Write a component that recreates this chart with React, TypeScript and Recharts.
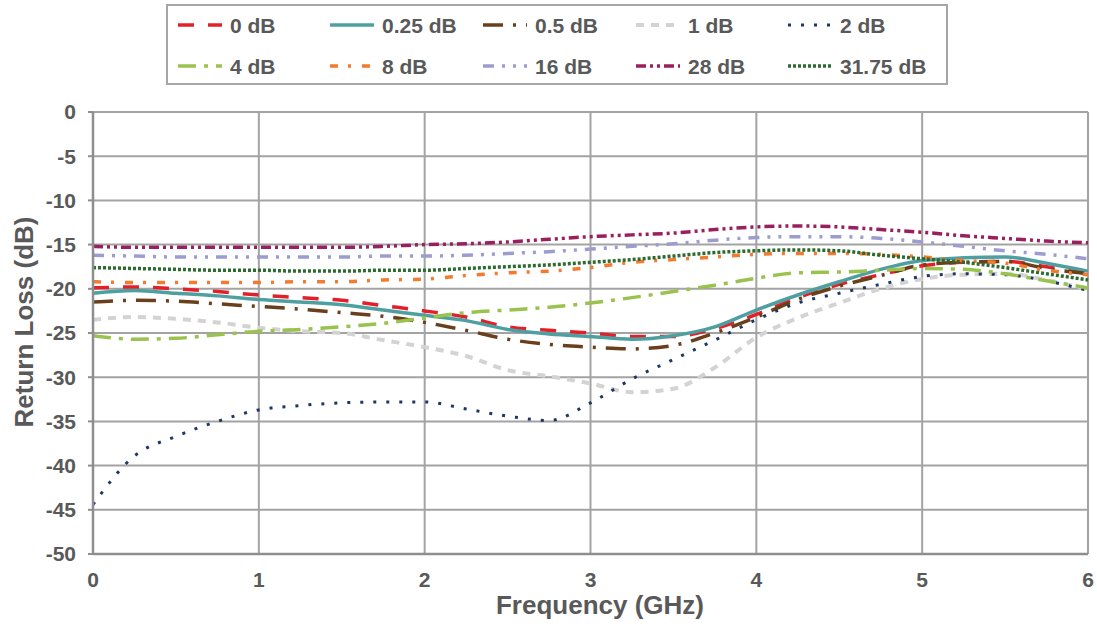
import React from 'react';
import { LineChart, Line, XAxis, YAxis, CartesianGrid } from 'recharts';

const freqGHz = [0, 0.25, 0.5, 0.75, 1, 1.25, 1.5, 1.75, 2, 2.25, 2.5, 2.75, 3, 3.25, 3.5, 3.75, 4, 4.25, 4.5, 4.75, 5, 5.25, 5.5, 5.75, 6];

const rl0dB = [-19.9, -19.8, -20.0, -20.3, -20.7, -21.0, -21.3, -21.9, -22.5, -23.2, -24.3, -24.7, -25.0, -25.4, -25.4, -24.5, -22.9, -21.0, -19.5, -18.4, -17.4, -17.0, -16.9, -17.5, -18.3];
const rl025dB = [-20.5, -20.2, -20.5, -20.8, -21.2, -21.5, -21.8, -22.4, -23.0, -23.6, -24.6, -25.1, -25.4, -25.7, -25.3, -24.3, -22.4, -20.7, -19.2, -17.8, -16.8, -16.5, -16.4, -17.1, -18.0];
const rl05dB = [-21.5, -21.3, -21.4, -21.7, -22.0, -22.3, -22.7, -23.1, -23.8, -24.7, -25.7, -26.3, -26.6, -26.8, -26.4, -25.0, -23.2, -21.2, -19.7, -18.5, -17.3, -17.0, -16.9, -17.7, -18.3];
const rl1dB = [-23.5, -23.2, -23.4, -23.8, -24.4, -24.8, -25.0, -25.8, -26.6, -27.6, -29.2, -29.9, -30.7, -31.7, -31.3, -28.9, -25.5, -23.3, -21.6, -20.0, -18.9, -18.4, -18.3, -19.0, -20.1];
const rl2dB = [-44.4, -38.9, -36.7, -35.0, -33.7, -33.2, -32.9, -32.8, -32.8, -33.6, -34.4, -34.9, -32.9, -30.2, -28.0, -25.8, -23.5, -21.6, -20.5, -19.5, -18.6, -18.3, -18.4, -19.1, -20.2];
const rl4dB = [-25.3, -25.7, -25.6, -25.2, -24.8, -24.6, -24.3, -23.9, -23.3, -22.7, -22.4, -22.1, -21.6, -21.0, -20.3, -19.6, -18.8, -18.2, -18.1, -17.9, -17.7, -17.8, -18.3, -19.1, -19.9];
const rl8dB = [-19.2, -19.3, -19.3, -19.3, -19.3, -19.2, -19.2, -19.0, -18.9, -18.5, -18.2, -18.0, -17.6, -17.0, -16.7, -16.4, -16.1, -16.0, -16.0, -16.1, -16.4, -16.8, -17.1, -17.9, -18.4];
const rl16dB = [-16.2, -16.3, -16.4, -16.4, -16.4, -16.4, -16.4, -16.3, -16.3, -16.2, -16.0, -15.8, -15.5, -15.2, -14.9, -14.5, -14.2, -14.1, -14.1, -14.3, -14.7, -15.2, -15.7, -16.1, -16.6];
const rl28dB = [-15.2, -15.3, -15.3, -15.3, -15.3, -15.3, -15.3, -15.2, -15.0, -14.9, -14.7, -14.4, -14.1, -13.9, -13.7, -13.3, -13.0, -12.9, -13.0, -13.3, -13.6, -14.0, -14.3, -14.6, -14.8];
const rl3175dB = [-17.6, -17.7, -17.8, -17.9, -17.9, -18.0, -18.0, -17.9, -17.9, -17.7, -17.5, -17.3, -17.0, -16.7, -16.3, -15.9, -15.7, -15.6, -15.7, -16.2, -16.6, -17.0, -17.6, -18.3, -19.0];

const xTicks = [0, 1, 2, 3, 4, 5, 6];
const yTicks = [0, -5, -10, -15, -20, -25, -30, -35, -40, -45, -50];

const seriesNames = ['0 dB', '0.25 dB', '0.5 dB', '1 dB', '2 dB', '4 dB', '8 dB', '16 dB', '28 dB', '31.75 dB'];
const seriesValues = [rl0dB, rl025dB, rl05dB, rl1dB, rl2dB, rl4dB, rl8dB, rl16dB, rl28dB, rl3175dB];

const seriesStyles = [
  { color: '#E3202A', dash: '16 14', width: 3.5 },
  { color: '#4E9FA0', dash: undefined, width: 3.5 },
  { color: '#6A3F1C', dash: '20 10 3 10', width: 3.5 },
  { color: '#D3D3D3', dash: '8 7', width: 4 },
  { color: '#1E3664', dash: '3 10', width: 3 },
  { color: '#9AC24E', dash: '18 8 4 8', width: 3.5 },
  { color: '#F37A2E', dash: '8 10 3 11', width: 3.5 },
  { color: '#9C9CD0', dash: '11 8 3 8 3 8', width: 3.5 },
  { color: '#9A1F5E', dash: '10 4 3 4 3 4', width: 3.5 },
  { color: '#2C6B2E', dash: '3 2', width: 3.5 },
];

const data = freqGHz.map((f, i) => {
  const row: Record<string, number> = { f };
  seriesValues.forEach((vals, k) => {
    row['s' + k] = vals[i];
  });
  return row;
});

const FONT = '"Liberation Sans", Arial, sans-serif';
const TEXT = '#595959';
const GRID = '#A3A3A3';

const legendCols = [178, 330, 483, 636, 788];
const legendRows = [25, 66];

function LegendOverlay() {
  return (
    <svg width={1097} height={92} style={{ position: 'absolute', left: 0, top: 0 }}>
      <rect x={167} y={5} width={780} height={79} fill="#fff" stroke="#A6A6A6" strokeWidth={2} />
      {seriesNames.map((name, i) => {
        const col = i % 5;
        const row = Math.floor(i / 5);
        const x0 = legendCols[col];
        const y = legendRows[row];
        const st = seriesStyles[i];
        return (
          <g key={name}>
            <line x1={x0} x2={x0 + 44} y1={y} y2={y} stroke={st.color} strokeWidth={st.width} strokeDasharray={st.dash} />
            <text x={x0 + 52} y={y} dominantBaseline="central" fontFamily={FONT} fontWeight="bold" fontSize={21} fill={TEXT}>
              {name}
            </text>
          </g>
        );
      })}
    </svg>
  );
}

const titleStyle = { fontFamily: FONT, fontWeight: 'bold' as const, fontSize: 26, fill: TEXT };

const XTitle = () => (
  <text x={600} y={614} textAnchor="middle" {...titleStyle}>
    Frequency (GHz)
  </text>
);

const YTitle = () => (
  <text x={33} y={322} textAnchor="middle" transform="rotate(-90 33 322)" {...titleStyle}>
    Return Loss (dB)
  </text>
);

export default function App() {
  return (
    <div style={{ position: 'absolute', left: 0, top: 0, width: 1097, height: 633, background: '#fff' }}>
      <LineChart width={1097} height={633} data={data} margin={{ top: 112, right: 9, bottom: 0, left: 0 }}>
        <CartesianGrid stroke={GRID} strokeWidth={2} />
        <XAxis
          dataKey="f"
          type="number"
          domain={[0, 6]}
          ticks={xTicks}
          height={79}
          axisLine={{ stroke: '#8E8E8E', strokeWidth: 2.5 }}
          tickLine={false}
          tickSize={6}
          tickMargin={12}
          tick={{ fontFamily: FONT, fontWeight: 'bold', fontSize: 21, fill: TEXT }}
          label={{ content: XTitle }}
        />
        <YAxis
          type="number"
          domain={[-50, 0]}
          ticks={yTicks}
          width={93}
          interval={0}
          axisLine={{ stroke: '#8E8E8E', strokeWidth: 2.5 }}
          tickLine={{ stroke: '#8E8E8E', strokeWidth: 2 }}
          tickSize={5}
          tickMargin={12}
          tick={{ fontFamily: FONT, fontWeight: 'bold', fontSize: 21, fill: TEXT }}
          label={{ content: YTitle }}
        />
        {seriesStyles.map((st, k) => (
          <Line
            key={k}
            type="monotone"
            dataKey={'s' + k}
            name={seriesNames[k]}
            stroke={st.color}
            strokeWidth={st.width}
            strokeDasharray={st.dash}
            dot={false}
            activeDot={false}
            isAnimationActive={false}
          />
        ))}
      </LineChart>
      <LegendOverlay />
    </div>
  );
}
